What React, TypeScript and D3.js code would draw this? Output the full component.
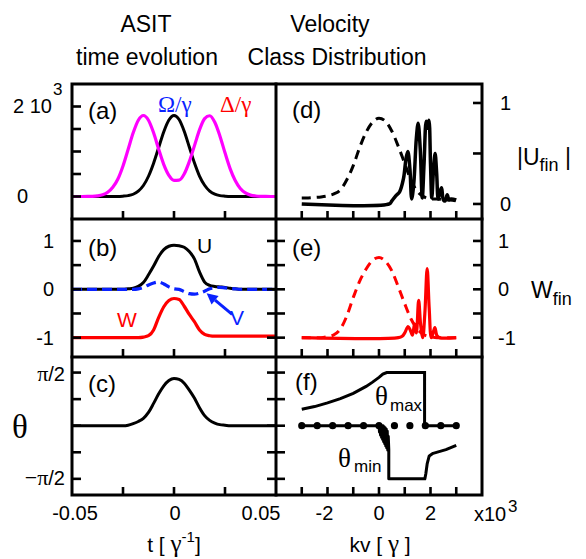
import React from 'react';
import * as d3 from 'd3';

// ---- left column: time axis (units of 1/gamma) ----
const tGrid = [
  -0.05, -0.0475, -0.045, -0.0425, -0.04, -0.0375, -0.035, -0.0325, -0.03, -0.0275,
  -0.025, -0.0225, -0.02, -0.0175, -0.015, -0.0125, -0.01, -0.0075, -0.005, -0.0025,
  0, 0.0025, 0.005, 0.0075, 0.01, 0.0125, 0.015, 0.0175, 0.02, 0.0225,
  0.025, 0.0275, 0.03, 0.0325, 0.035, 0.0375, 0.04, 0.0425, 0.045, 0.0475, 0.05,
];
// (a) Omega/gamma (black) and Delta/gamma (magenta)
const omegaA = [
  0, 0, 0, 0, 0, 0, 0, 0, 0, 0,
  7, 20, 50, 120, 245, 450, 740, 1090, 1440, 1700,
  1800, 1710, 1450, 1100, 750, 455, 250, 120, 52, 20,
  7, 0, 0, 0, 0, 0, 0, 0, 0, 0, 0,
];
const deltaA = [
  0, 0, 0, 1, 4, 14, 38, 94, 205, 390,
  680, 1045, 1415, 1695, 1800, 1695, 1415, 1050, 710, 470,
  360, 365, 500, 775, 1125, 1480, 1730, 1795, 1650, 1345,
  970, 620, 355, 178, 80, 31, 11, 3, 1, 0, 0,
];
// (b) Bloch components
const uB = [
  0, 0, 0, 0, 0, 0, 0, 0, 0, 0,
  0, 0.01, 0.02, 0.06, 0.14, 0.3, 0.48, 0.68, 0.82, 0.89,
  0.91, 0.9, 0.87, 0.78, 0.63, 0.36, 0.15, 0.08, 0.06, 0.05,
  0.04, 0.02, 0.01, 0, 0, 0, 0, 0, 0, 0, 0,
];
const vB = [
  0, 0, 0, 0, 0, 0, 0, 0, 0, 0,
  0, 0, 0, 0.01, 0.04, 0.09, 0.13, 0.15, 0.11, 0.05,
  0.01, 0, -0.05, -0.09, -0.1, -0.08, -0.04, 0.01, 0.03, 0.04,
  0.03, 0.02, 0.01, 0, 0, 0, 0, 0, 0, 0, 0,
];
const wB = [
  -1, -1, -1, -1, -1, -1, -1, -1, -1, -1,
  -1, -1, -1, -1, -0.99, -0.96, -0.84, -0.58, -0.36, -0.23,
  -0.19, -0.21, -0.35, -0.52, -0.67, -0.84, -0.93, -0.96, -0.97, -0.97,
  -0.97, -0.97, -0.97, -0.97, -0.97, -0.97, -0.97, -0.97, -0.97, -0.97, -0.97,
];
// (c) theta in units of pi/2
const thetaC = [
  0, 0, 0, 0, 0, 0, 0, 0, 0, 0,
  0, 0.01, 0.04, 0.08, 0.14, 0.25, 0.42, 0.6, 0.75, 0.85,
  0.89, 0.87, 0.8, 0.67, 0.52, 0.34, 0.19, 0.1, 0.05, 0.02,
  0.01, 0, 0, 0, 0, 0, 0, 0, 0, 0, 0,
];

// ---- right column: velocity classes kv (units of 10^3 gamma) ----
const kvGrid = [
  -3, -2.75, -2.5, -2.25, -2, -1.75, -1.5, -1.25, -1, -0.75, -0.5, -0.25,
  0, 0.25, 0.5, 0.75, 1, 1.25, 1.5, 1.75, 2, 2.25, 2.5, 2.75, 3,
];
const uFinDash = [
  0.06, 0.06, 0.065, 0.07, 0.08, 0.1, 0.14, 0.24, 0.38, 0.56, 0.71, 0.81,
  0.85, 0.82, 0.72, 0.57, 0.4, 0.23, 0.12, 0.07, 0.05, 0.05, 0.04, 0.04, 0.03,
];
const wFinDash = [
  -1, -1, -1, -1, -0.98, -0.94, -0.82, -0.55, -0.17, 0.17, 0.42, 0.6,
  0.66, 0.58, 0.38, 0.05, -0.3, -0.62, -0.83, -0.94, -0.98, -1, -1, -1, -1,
];
const uFinKv = [
  -3, 0.4, 0.5, 0.65, 0.8, 0.95, 1.05, 1.12, 1.2, 1.27, 1.35, 1.45, 1.52, 1.6, 1.68,
  1.75, 1.83, 1.88, 1.94, 2.0, 2.05, 2.12, 2.18, 2.24, 2.3, 2.37, 2.43, 2.5, 2.57,
  2.65, 2.72, 2.8, 3.0,
];
const uFin = [
  0, 0, 0.03, 0.08, 0.12, 0.25, 0.45, 0.52, 0.35, 0.05, 0.2, 0.65, 0.8, 0.55, 0.06,
  0.4, 0.82, 0.75, 0.83, 0.4, 0.06, 0.35, 0.5, 0.3, 0.05, 0.12, 0.16, 0.04, 0.03,
  0.09, 0.04, 0.05, 0.04,
];
const wFinKv = [
  -3, 0.75, 0.9, 1.0, 1.13, 1.22, 1.3, 1.38, 1.45, 1.54, 1.62, 1.7, 1.78, 1.87,
  1.95, 2.03, 2.1, 2.17, 2.25, 2.35, 3.0,
];
const wFin = [
  -1, -1, -0.97, -0.9, -0.77, -0.85, -0.95, -0.72, -0.9, -0.23, -0.75, -1.0, -0.5,
  0.43, -0.4, -1.0, -0.9, -0.79, -0.96, -1.0, -1.0,
];
// (f) theta_max / theta_min in units of pi/2
const thMaxKv = [-3, -2.5, -2, -1.5, -1, -0.5, -0.25, 0, 0.15, 0.3, 1.77, 1.77, 3];
const thMax = [0.31, 0.36, 0.43, 0.51, 0.61, 0.74, 0.82, 0.91, 0.97, 1.0, 1.0, 0, 0];
const thMinKv = [
  -3, 0, 0.02, 0.04, 0.06, 0.08, 0.1, 0.12, 0.14, 0.16, 0.18, 0.2, 0.22, 0.24, 0.26,
  0.28, 0.3, 0.32, 0.34, 0.36, 0.38, 0.38, 1.78, 1.82, 1.87, 1.95, 2.1, 2.6, 3.0,
];
const thMin = [
  0, 0, -0.12, 0, -0.18, 0, -0.22, 0, -0.26, 0, -0.3, -0.02, -0.34, -0.04, -0.38,
  -0.06, -0.42, -0.1, -0.46, -0.2, -0.45, -1.0, -1.0, -0.9, -0.72, -0.57, -0.52, -0.45, -0.37,
];
const dotKv = [-3, -2.4, -1.8, -1.2, -0.6, 0, 0.6, 1.2, 1.8, 2.4, 3];

// ticks and labels
const tTicks = [-0.025, 0, 0.025];
const kvTicks = [-3, -2, -1, 0, 1, 2, 3];
const aTicks = [0, 500, 1000, 1500, 2000];
const bTicks = [-1, -0.5, 0, 0.5, 1];
const cTicks = [-1, -0.5, 0, 0.5, 1];
const dTicks = [0, 0.5, 1];
const tLabels = ['-0.05', '0', '0.05'];
const tLabelVals = [-0.05, 0, 0.05];
const kvLabels = ['-2', '0', '2'];
const kvLabelVals = [-2, 0, 2];
const bLabels = ['1', '0', '-1'];
const bLabelVals = [1, 0, -1];

const SANS = 'Liberation Sans, Arial, Helvetica, sans-serif';
const SERIF = 'Liberation Serif, Times New Roman, serif';

export default function App() {
  const X0 = 72, XM = 276, X1 = 482;
  const Y0 = 84, Y1 = 219, Y2 = 357, Y3 = 495;

  const xT = d3.scaleLinear().domain([-0.05, 0.05]).range([X0, XM]);
  const xK = d3.scaleLinear().domain([-4, 4]).range([XM, X1]);
  const yA = d3.scaleLinear().domain([-500, 2500]).range([Y1, Y0]);
  const yB = d3.scaleLinear().domain([-1.4, 1.454]).range([Y2, Y1]);
  const yC = d3.scaleLinear().domain([-1.304, 1.293]).range([Y3, Y2]);
  const yD = d3.scaleLinear().domain([-0.149, 1.188]).range([Y1, Y0]);

  const mk = (xs: number[], ys: number[], x: any, y: any, curve: any = d3.curveMonotoneX) =>
    d3.line<number>().x((_, i) => x(xs[i])).y(d => y(d)).curve(curve)(ys) || '';

  const segs: number[][] = [];
  const tl = 9;
  aTicks.forEach(v => segs.push([X0, yA(v), X0 + tl, yA(v)]));
  bTicks.forEach(v => {
    segs.push([X0, yB(v), X0 + tl, yB(v)]);
    segs.push([XM - tl, yB(v), XM, yB(v)]);
    segs.push([XM, yB(v), XM + tl, yB(v)]);
    segs.push([X1 - tl, yB(v), X1, yB(v)]);
  });
  cTicks.forEach(v => {
    segs.push([X0, yC(v), X0 + tl, yC(v)]);
    segs.push([XM - tl, yC(v), XM, yC(v)]);
    segs.push([XM, yC(v), XM + tl, yC(v)]);
  });
  dTicks.forEach(v => segs.push([X1 - tl, yD(v), X1, yD(v)]));
  [Y1, Y2, Y3].forEach(yb => {
    tTicks.forEach(v => segs.push([xT(v), yb - 8, xT(v), yb]));
    kvTicks.forEach(v => segs.push([xK(v), yb - 8, xK(v), yb]));
  });

  // arrow for V
  const tip = [xT(0.016), yB(-0.08)];
  const tail = [xT(0.0285), yB(-0.52)];
  const dx = tip[0] - tail[0], dy = tip[1] - tail[1];
  const len = Math.hypot(dx, dy);
  const ux = dx / len, uy = dy / len;
  const bx = tip[0] - 11 * ux, by = tip[1] - 11 * uy;
  const head = `${tip[0]},${tip[1]} ${bx - 5.5 * uy},${by + 5.5 * ux} ${bx + 5.5 * uy},${by - 5.5 * ux}`;

  return (
    <svg width={586} height={559} style={{ position: 'absolute', left: 0, top: 0, background: '#fff' }}
      fontFamily={SANS}>
      {/* titles */}
      <g fontSize={23} textAnchor="middle" fill="#000">
        <text x={146} y={32}>ASIT</text>
        <text x={147} y={65}>time evolution</text>
        <text x={330} y={32}>Velocity</text>
        <text x={337} y={65}>Class Distribution</text>
      </g>

      {/* curves: (a) */}
      <path d={mk(tGrid, omegaA, xT, yA)} fill="none" stroke="#000" strokeWidth={3} />
      <path d={mk(tGrid, deltaA, xT, yA)} fill="none" stroke="#ff00ff" strokeWidth={3.2} />
      {/* (b) */}
      <path d={mk(tGrid, uB, xT, yB)} fill="none" stroke="#000" strokeWidth={3} />
      <path d={mk(tGrid, wB, xT, yB)} fill="none" stroke="#ff0000" strokeWidth={3.2} />
      <path d={mk(tGrid, vB, xT, yB)} fill="none" stroke="#0a22ff" strokeWidth={3.2} strokeDasharray="10,5" />
      <line x1={tail[0]} y1={tail[1]} x2={bx} y2={by} stroke="#0a22ff" strokeWidth={3} />
      <polygon points={head} fill="#0a22ff" />
      {/* (c) */}
      <path d={mk(tGrid, thetaC, xT, yC)} fill="none" stroke="#000" strokeWidth={3} />

      {/* (d) */}
      <path d={mk(kvGrid, uFinDash, xK, yD)} fill="none" stroke="#000" strokeWidth={3} strokeDasharray="9,6" />
      <path d={mk(uFinKv, uFin, xK, yD, d3.curveCatmullRom)} fill="none" stroke="#000" strokeWidth={3.5} />
      {/* (e) */}
      <path d={mk(kvGrid, wFinDash, xK, yB)} fill="none" stroke="#ff0000" strokeWidth={3} strokeDasharray="9,6" />
      <path d={mk(wFinKv, wFin, xK, yB, d3.curveCatmullRom)} fill="none" stroke="#ff0000" strokeWidth={3.2} />
      {/* (f) */}
      <path d={mk(thMaxKv, thMax, xK, yC, d3.curveLinear)} fill="none" stroke="#000" strokeWidth={3} />
      <path d={mk(thMinKv, thMin, xK, yC, d3.curveLinear)} fill="none" stroke="#000" strokeWidth={3}
        strokeLinejoin="round" />
      {dotKv.map((k, i) => (
        <circle key={i} cx={xK(k)} cy={yC(0)} r={3.6} fill="#000" />
      ))}

      {/* frame and ticks */}
      <g stroke="#000" strokeWidth={3} fill="none" strokeLinecap="square">
        <rect x={X0} y={Y0} width={X1 - X0} height={Y3 - Y0} />
        <line x1={XM} y1={Y0} x2={XM} y2={Y3} />
        <line x1={X0} y1={Y1} x2={X1} y2={Y1} />
        <line x1={X0} y1={Y2} x2={X1} y2={Y2} />
      </g>
      <g stroke="#000" strokeWidth={2.6}>
        {segs.map((s, i) => (
          <line key={i} x1={s[0]} y1={s[1]} x2={s[2]} y2={s[3]} />
        ))}
      </g>

      {/* panel labels */}
      <g fontSize={24} fill="#000">
        <text x={88} y={119}>(a)</text>
        <text x={88} y={256}>(b)</text>
        <text x={88} y={392}>(c)</text>
        <text x={292} y={118}>(d)</text>
        <text x={292} y={256}>(e)</text>
        <text x={295} y={390}>(f)</text>
      </g>

      {/* in-panel annotations */}
      <text x={158} y={112} fontFamily={SERIF} fontSize={23} fill="#0a22ff">Ω/γ</text>
      <text x={220} y={112} fontFamily={SERIF} fontSize={23} fill="#ff0000">Δ/γ</text>
      <text x={197} y={253} fontSize={21} fill="#000">U</text>
      <text x={117} y={327} fontSize={21} fill="#ff0000">W</text>
      <text x={230} y={325} fontSize={21} fill="#0a22ff">V</text>
      <text x={375} y={405} fontFamily={SERIF} fontSize={27} fill="#000">θ</text>
      <text x={390} y={411} fontSize={17} fill="#000">max</text>
      <text x={338} y={467} fontFamily={SERIF} fontSize={27} fill="#000">θ</text>
      <text x={354} y={472} fontSize={17} fill="#000">min</text>

      {/* left axis labels */}
      <g fontSize={20} fill="#000">
        <text x={13} y={113}>2 10</text>
        <text x={53} y={95} fontSize={17}>3</text>
        <text x={22.5} y={203} textAnchor="middle">0</text>
        {bLabels.map((l, i) => (
          <text key={i} x={54} y={yB(bLabelVals[i]) + 7} textAnchor="end">{l}</text>
        ))}
        <text x={65} y={yC(1) + 8} textAnchor="end">
          <tspan fontFamily={SERIF} fontSize={22}>π</tspan>/2
        </text>
        <text x={65} y={yC(-1) + 6} textAnchor="end">
          <tspan fontFamily={SERIF} fontSize={22}>−π</tspan>/2
        </text>
        <text x={20} y={438} textAnchor="middle" fontFamily={SERIF} fontSize={33}>θ</text>
      </g>

      {/* right axis labels */}
      <g fontSize={20} fill="#000">
        {dTicks.filter(v => v !== 0.5).map((v, i) => (
          <text key={i} x={500} y={yD(v) + 7}>{v}</text>
        ))}
        {bLabels.map((l, i) => (
          <text key={i} x={498} y={yB(bLabelVals[i]) + 7}>{l}</text>
        ))}
        <text x={517} y={165} fontSize={23}>|U<tspan fontSize={18} dy={6}>fin</tspan><tspan dy={-6}> |</tspan></text>
        <text x={531} y={298} fontSize={23}>W<tspan fontSize={18} dy={7}>fin</tspan></text>
      </g>

      {/* bottom axis labels */}
      <g fontSize={21} fill="#000" textAnchor="middle">
        {tLabels.map((l, i) => (
          <text key={i} fontSize={20} x={xT(tLabelVals[i]) + (i === 0 ? 3 : i === 2 ? -15 : 1)} y={520}>{l}</text>
        ))}
        {kvLabels.map((l, i) => (
          <text key={i} fontSize={20} x={xK(kvLabelVals[i]) - (i === 0 ? 3 : 0)} y={520}>{l}</text>
        ))}
        <text x={174} y={552}>
          t [ <tspan fontFamily={SERIF} fontSize={25}>γ</tspan><tspan fontSize={15} dy={-10}>-1</tspan><tspan dy={10}>]</tspan>
        </text>
        <text x={380} y={552}>
          kv [ <tspan fontFamily={SERIF} fontSize={25}>γ</tspan> ]
        </text>
      </g>
      <text x={474} y={521} fontSize={20} fill="#000">x10</text>
      <text x={508} y={512} fontSize={17} fill="#000">3</text>
    </svg>
  );
}
